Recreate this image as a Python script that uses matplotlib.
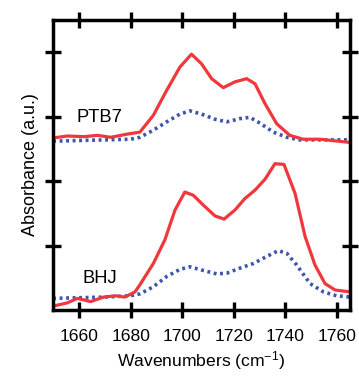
import matplotlib
matplotlib.use("Agg")
import matplotlib.pyplot as plt

plt.rcParams['font.family'] = ['Liberation Sans', 'DejaVu Sans']
plt.rcParams['mathtext.fontset'] = 'custom'
plt.rcParams['mathtext.rm'] = 'Liberation Sans'
plt.rcParams['mathtext.it'] = 'Liberation Sans'
plt.rcParams['mathtext.default'] = 'regular'

# PTB7 film (offset upward)
ptb7_red_x = [1650, 1655.5, 1662, 1667.2, 1672.3, 1678.8, 1683.6, 1688.8, 1694, 1699.1, 1703.6,
              1707.5, 1711.4, 1715.9, 1720.4, 1725, 1728.2, 1732.1, 1736.6, 1741.7, 1746.9, 1753.4, 1765]
ptb7_red_y = [2.67, 2.70, 2.69, 2.71, 2.68, 2.73, 2.76, 3.02, 3.41, 3.77, 3.97,
              3.82, 3.59, 3.45, 3.54, 3.59, 3.51, 3.20, 2.89, 2.71, 2.65, 2.65, 2.60]
ptb7_blue_x = [1650, 1670, 1680, 1683.6, 1688.8, 1694, 1699.1, 1703, 1707.5, 1712.7, 1717.2,
               1722.4, 1726.2, 1730.1, 1735.3, 1740.5, 1745.6, 1755, 1765]
ptb7_blue_y = [2.62, 2.64, 2.65, 2.68, 2.79, 2.92, 3.04, 3.09, 3.04, 2.96, 2.92,
               2.97, 2.99, 2.90, 2.76, 2.68, 2.64, 2.64, 2.64]

# BHJ film
bhj_red_x = [1650, 1655.5, 1659.4, 1664.5, 1669.6, 1674.1, 1677.8, 1681.7, 1683.6, 1688.8, 1693.3,
             1697.2, 1701.0, 1704.3, 1708.1, 1712.7, 1716.2, 1720.4, 1724.3, 1728.2, 1732.1, 1735.9,
             1739.4, 1743.7, 1747.6, 1751.4, 1755.3, 1759.2, 1765]
bhj_red_y = [0.06, 0.11, 0.18, 0.13, 0.20, 0.22, 0.20, 0.28, 0.39, 0.72, 1.09,
             1.55, 1.83, 1.78, 1.63, 1.46, 1.41, 1.55, 1.73, 1.86, 2.03, 2.27,
             2.26, 1.81, 1.14, 0.70, 0.41, 0.31, 0.28]
bhj_blue_x = [1650, 1660, 1670, 1680, 1683.6, 1688.8, 1694, 1699.1, 1703, 1707.5, 1713.3, 1717.2,
              1722.4, 1727.5, 1732.7, 1737.2, 1740.5, 1744.3, 1749.5, 1754.7, 1759.8, 1765]
bhj_blue_y = [0.18, 0.19, 0.20, 0.22, 0.25, 0.36, 0.52, 0.63, 0.67, 0.62, 0.56, 0.57,
              0.65, 0.72, 0.83, 0.92, 0.88, 0.70, 0.41, 0.28, 0.22, 0.20]

x_ticks = [1660, 1680, 1700, 1720, 1740, 1760]
y_ticks = [1, 2, 3, 4]

red = '#f0383c'
blue = '#3d55b0'

fig = plt.figure(figsize=(3.59, 3.78), dpi=100)
ax = fig.add_axes([0.148, 0.180, 0.827, 0.767])

ax.plot(ptb7_blue_x, ptb7_blue_y, color=blue, lw=2.6, linestyle=(0, (0.8, 1.0)), dash_capstyle='butt')
ax.plot(bhj_blue_x, bhj_blue_y, color=blue, lw=2.6, linestyle=(0, (0.8, 1.0)), dash_capstyle='butt')
ax.plot(ptb7_red_x, ptb7_red_y, color=red, lw=2.3)
ax.plot(bhj_red_x, bhj_red_y, color=red, lw=2.3)

ax.text(1659.0, 2.915, 'PTB7', fontsize=13.2, va='baseline', ha='left')
ax.text(1661.3, 0.42, 'BHJ', fontsize=13.2, va='baseline', ha='left')

ax.set_xlim(1650, 1765)
ax.set_ylim(0, 4.5)
ax.set_xticks(x_ticks)
ax.set_yticks(y_ticks)
ax.set_yticklabels([])
for s in ax.spines.values():
    s.set_linewidth(2.5)
ax.tick_params(direction='inout', length=11, width=2.4, top=True, right=True,
               labelsize=12.6)
ax.tick_params(axis='x', pad=8)
ax.tick_params(axis='y', pad=0)
ax.set_xlabel('Wavenumbers (cm$^{-1}$)', fontsize=12.6, labelpad=4)
ax.set_ylabel('Absorbance (a.u.)', fontsize=13, labelpad=5)

fig.savefig('out.png', dpi=100)
